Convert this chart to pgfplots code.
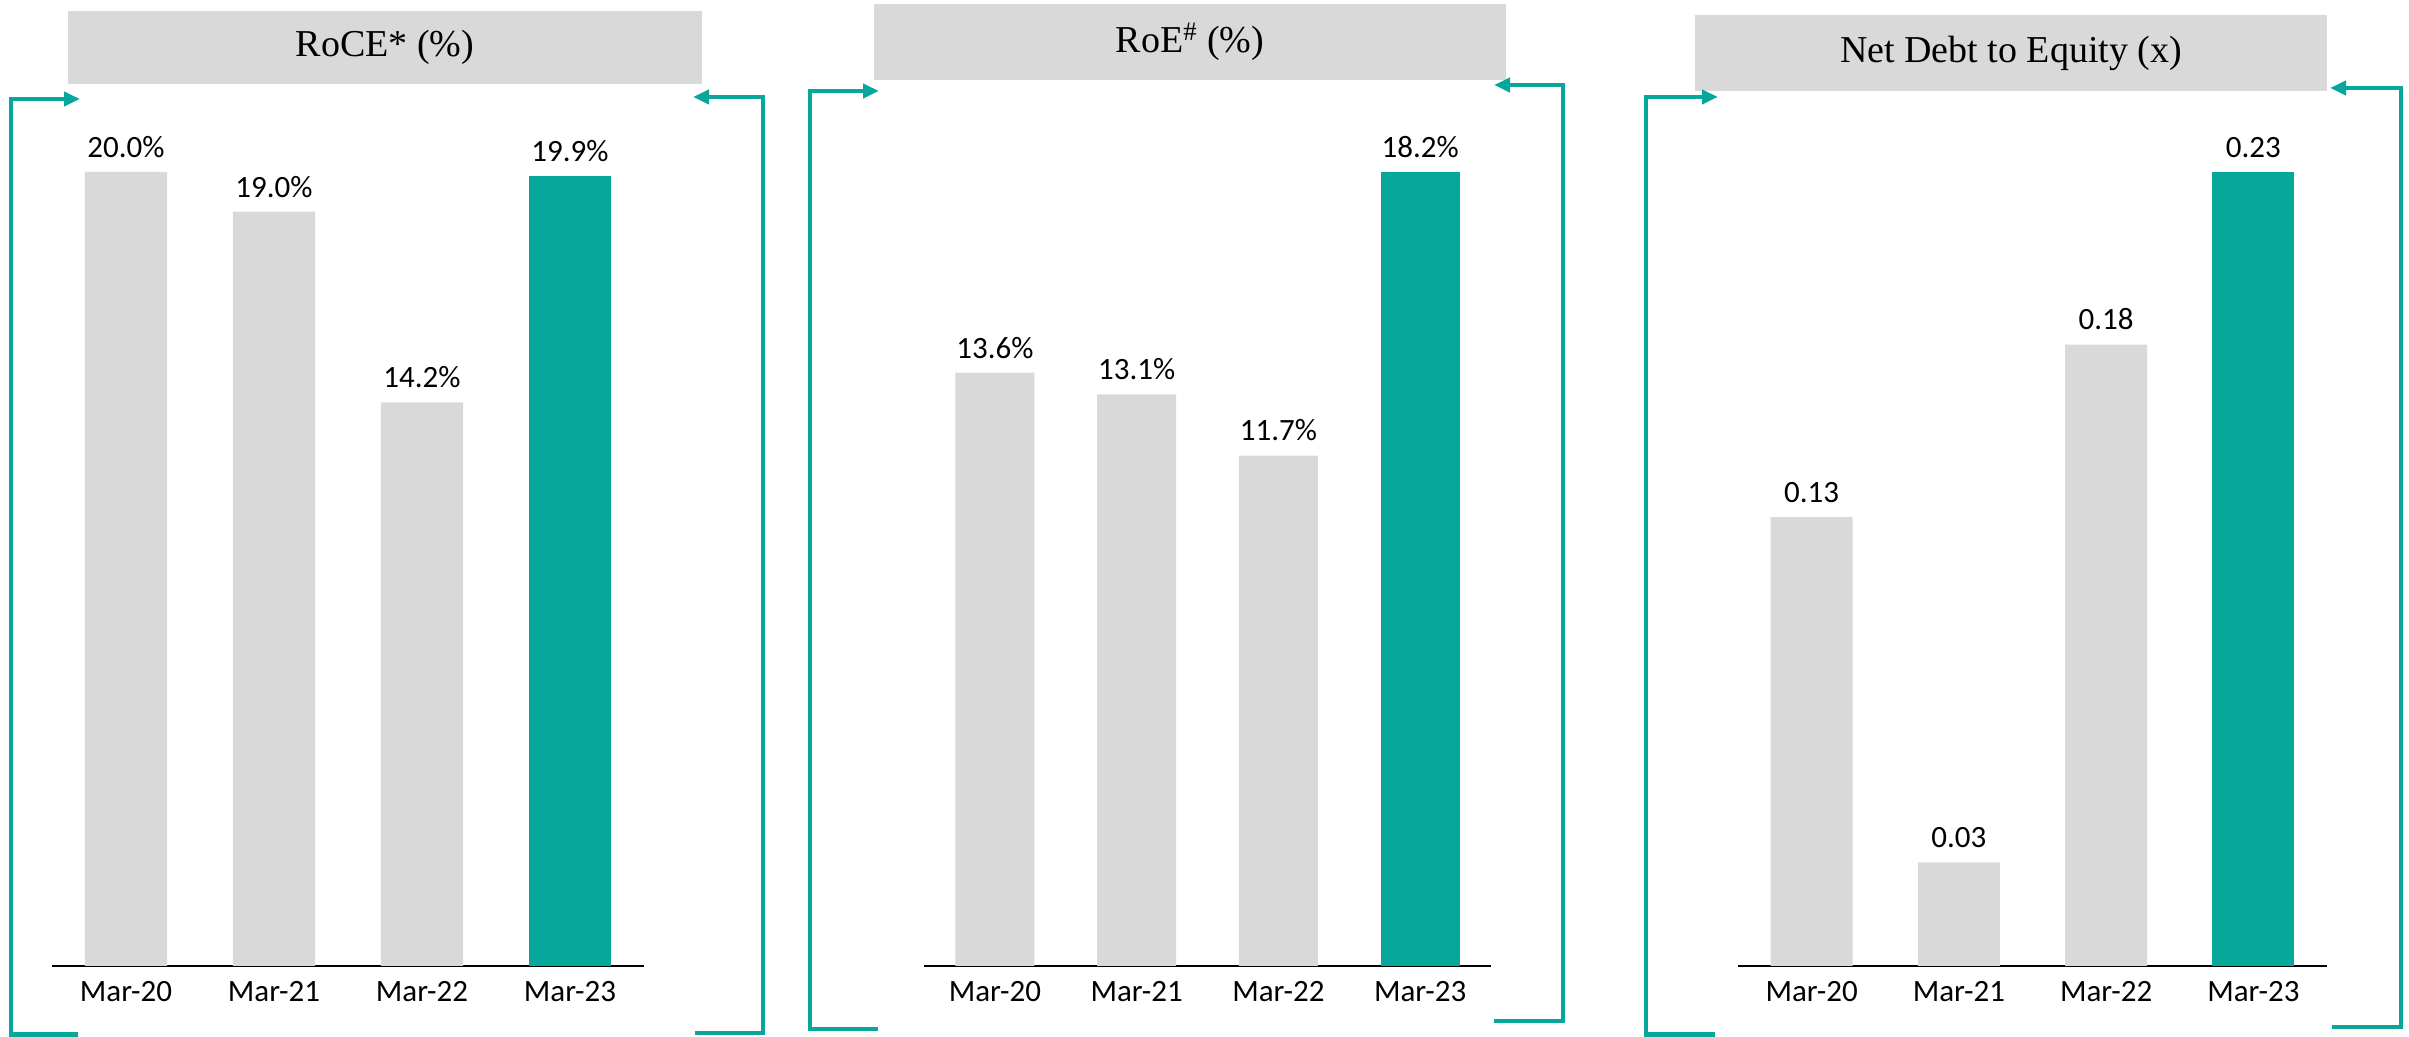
\documentclass[border=0pt]{standalone}
\usepackage{pgfplots}
\pgfplotsset{compat=1.18}
\usepackage{fontspec}
\setmainfont{Carlito}
\newfontfamily\titlefont{Liberation Serif}
\usetikzlibrary{arrows.meta}

\definecolor{kpiteal}{RGB}{8,167,155}
\definecolor{kpigray}{RGB}{217,217,217}

% 1 px of the reference = 0.5pt
\pgfplotsset{
  kpi/.style={
    scale only axis,
    height=397pt,
    anchor=south west,
    ymin=0,
    xmin=-0.5, xmax=3.5,
    enlargelimits=false,
    clip=false,
    hide y axis,
    axis x line*=bottom,
    x axis line style={-, line width=1pt, black},
    xtick={0,1,2,3},
    xticklabels={Mar-20,Mar-21,Mar-22,Mar-23},
    major tick length=0pt,
    /pgf/number format/assume math mode=true,
    xticklabel style={font=\fontsize{15.5}{18}\selectfont, anchor=base, yshift=-18pt},
    every node near coord/.append style={font=\fontsize{15.5}{18}\selectfont, inner sep=0pt, yshift=7pt, black},
  },
  grey bars/.style={ybar, bar shift=0pt, fill=kpigray, draw=none},
  teal bars/.style={ybar, bar shift=0pt, fill=kpiteal, draw=none},
}

\begin{document}
\begin{tikzpicture}
\path[use as bounding box] (0pt,0pt) rectangle (1204.5pt,518.5pt);

% title boxes
\fill[kpigray] (34pt,476.5pt) rectangle (351pt,513pt);
\node[font=\titlefont\fontsize{19}{22}\selectfont] at (192.5pt,494.75pt) {RoCE* (\%)};
\fill[kpigray] (437pt,478.5pt) rectangle (753pt,516.5pt);
\node[font=\titlefont\fontsize{19}{22}\selectfont] at (595pt,497.5pt) {RoE\textsuperscript{\#} (\%)};
\fill[kpigray] (847.5pt,473pt) rectangle (1163.5pt,511pt);
\node[font=\titlefont\fontsize{19}{22}\selectfont] at (1005.5pt,492pt) {Net Debt to Equity (x)};

% brackets
\begin{scope}[kpiteal, line width=2.3pt, -{Triangle[length=8pt,width=7pt]}]
  \draw (39pt,1.2pt) -- (5.5pt,1.2pt) -- (5.5pt,469pt) -- (40pt,469pt);
  \draw (347.5pt,2pt) -- (381.5pt,2pt) -- (381.5pt,470pt) -- (346.5pt,470pt);
  \draw (439pt,4pt) -- (405pt,4pt) -- (405pt,473pt) -- (439.5pt,473pt);
  \draw (747pt,8pt) -- (781.5pt,8pt) -- (781.5pt,476pt) -- (747pt,476pt);
  \draw (857.5pt,1.2pt) -- (823pt,1.2pt) -- (823pt,470pt) -- (859pt,470pt);
  \draw (1166pt,5pt) -- (1200.5pt,5pt) -- (1200.5pt,474.5pt) -- (1165pt,474.5pt);
\end{scope}

% RoCE
\begin{axis}[kpi, at={(26pt,35.5pt)}, width=296pt, ymax=20,
  nodes near coords={\pgfmathprintnumber[fixed,fixed zerofill,precision=1]{\pgfplotspointmeta}\%}]
  \addplot[grey bars, bar width=41pt] coordinates {(0,20.0) (1,19.0) (2,14.2)};
  \addplot[teal bars, bar width=41pt] coordinates {(3,19.9)};
\end{axis}

% RoE
\begin{axis}[kpi, at={(462pt,35.5pt)}, width=283.5pt, ymax=18.2,
  nodes near coords={\pgfmathprintnumber[fixed,fixed zerofill,precision=1]{\pgfplotspointmeta}\%}]
  \addplot[grey bars, bar width=39.5pt] coordinates {(0,13.6) (1,13.1) (2,11.7)};
  \addplot[teal bars, bar width=39.5pt] coordinates {(3,18.2)};
\end{axis}

% Net debt to equity
\begin{axis}[kpi, at={(869pt,35.5pt)}, width=294.5pt, ymax=0.23,
  nodes near coords={\pgfmathprintnumber[fixed,fixed zerofill,precision=2]{\pgfplotspointmeta}}]
  \addplot[grey bars, bar width=41pt] coordinates {(0,0.13) (1,0.03) (2,0.18)};
  \addplot[teal bars, bar width=41pt] coordinates {(3,0.23)};
\end{axis}
\end{tikzpicture}
\end{document}
